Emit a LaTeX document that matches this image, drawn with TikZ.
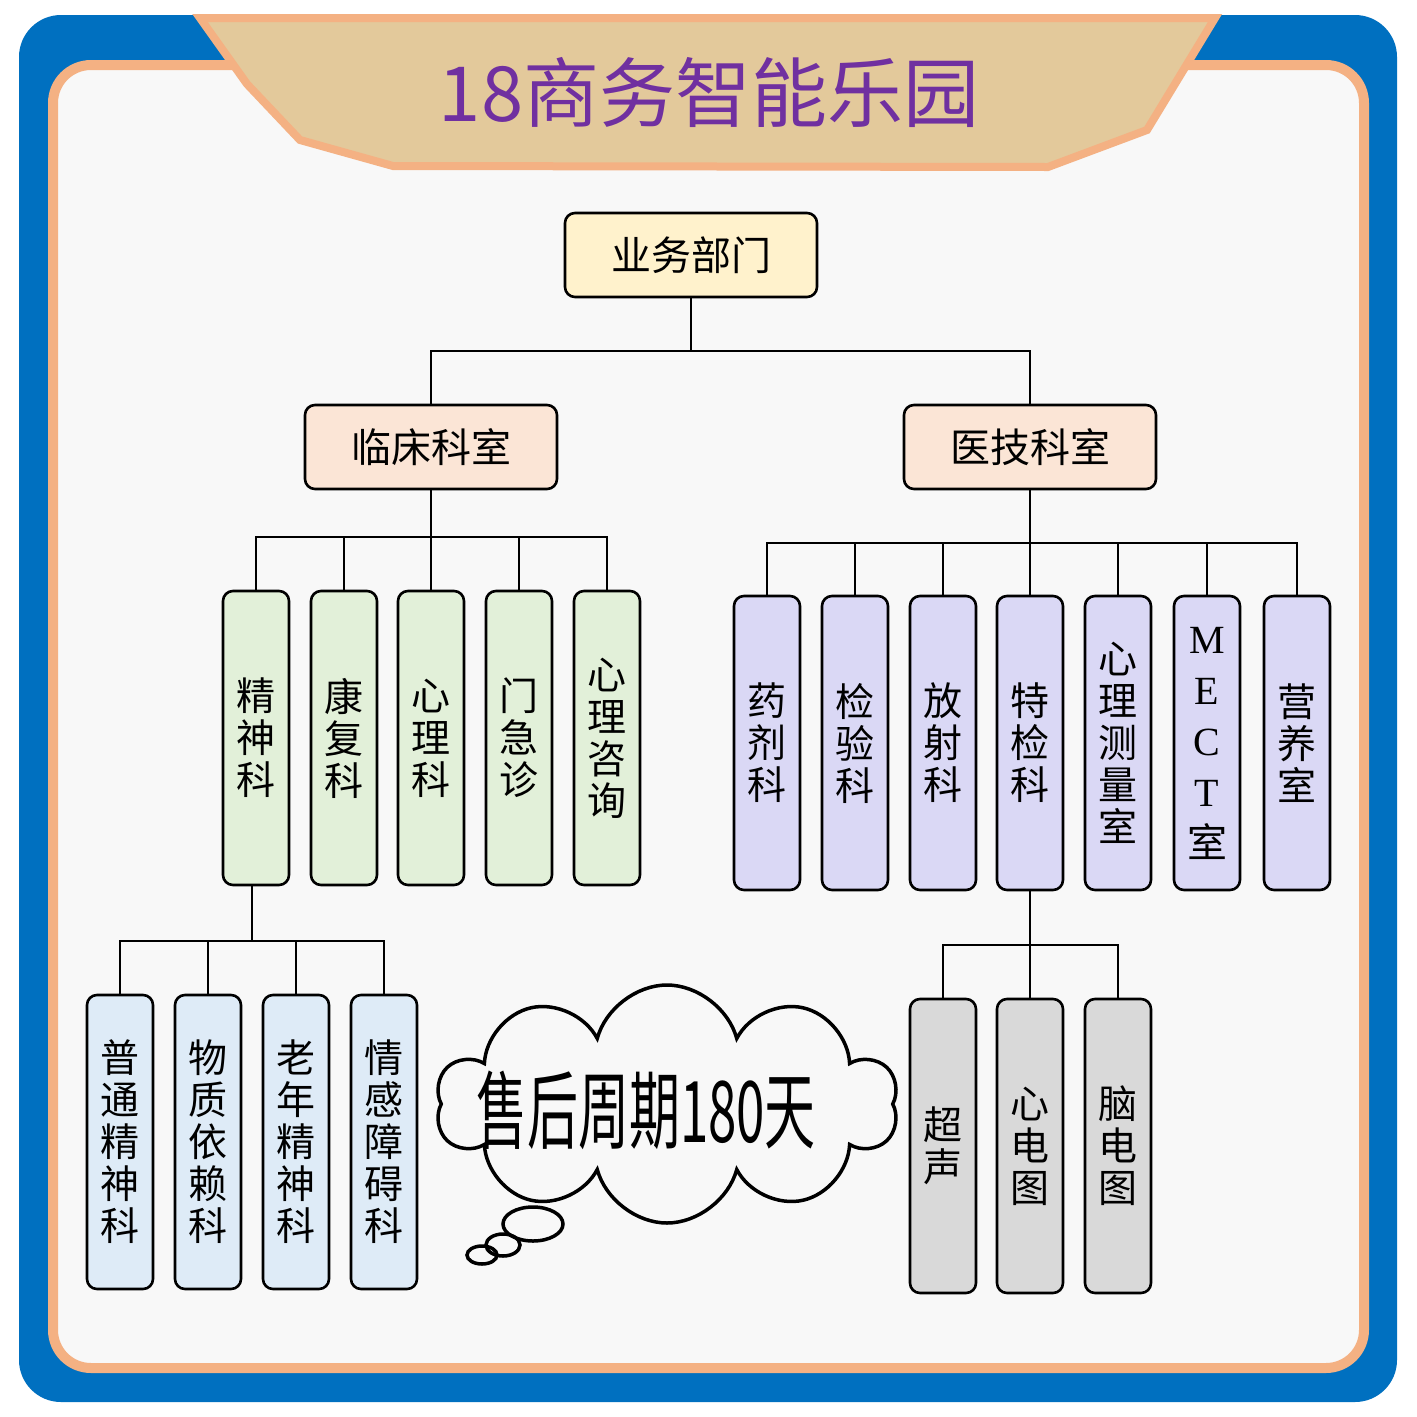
\documentclass[tikz,border=0pt]{standalone}
\usepackage{fontspec}
\setmainfont{Noto Sans CJK SC}
\newfontfamily\mectfont{Liberation Serif}
\usetikzlibrary{shapes.symbols}

\definecolor{frameblue}{HTML}{0070C0}
\definecolor{frameorange}{HTML}{F4B183}
\definecolor{paper}{HTML}{F8F8F8}
\definecolor{bannertan}{HTML}{E3C99B}
\definecolor{titlepurple}{HTML}{7030A0}
\definecolor{topfill}{HTML}{FFF2CC}
\definecolor{deptfill}{HTML}{FBE5D6}
\definecolor{clinfill}{HTML}{E2F0D9}
\definecolor{techfill}{HTML}{DAD8F5}
\definecolor{psyfill}{HTML}{DEEBF7}
\definecolor{examfill}{HTML}{D9D9D9}

\tikzset{
  head/.style={draw, line width=2.6pt, rounded corners=10pt, minimum width=252pt,
    minimum height=84pt, inner sep=0pt, font=\fontsize{40}{42}\selectfont},
  col/.style={draw, line width=2.6pt, rounded corners=10pt, minimum width=66pt,
    minimum height=294pt, inner sep=0pt, align=center, font=\fontsize{39}{42}\selectfont},
  link/.style={line width=2.6pt},
  puff/.style={line width=3.5pt}
}

\begin{document}
\begin{tikzpicture}[x=1pt, y=-1pt]
\useasboundingbox (0,0) rectangle (1417,1417);
\fill[white] (0,0) rectangle (1417,1417);

% frame and banner
\fill[frameblue, rounded corners=42pt] (19,15) rectangle (1397,1402);
\filldraw[fill=paper, draw=frameorange, line width=10pt, rounded corners=38pt] (53,65) rectangle (1364,1368);
\filldraw[fill=bannertan, draw=frameorange, line width=8pt, line join=miter]
  (200,18) -- (247,84) -- (300,140) -- (393,166) -- (1048,167) -- (1147,130) -- (1215,18) -- cycle;
\node[text=titlepurple, font=\fontsize{76}{78}\selectfont] (title) at (709,92) {18商务智能乐园};

% first levels
\node[head, fill=topfill] (top) at (691,255) {业务部门};
\node[head, fill=deptfill] (clin) at (431,447) {临床科室};
\node[head, fill=deptfill] (tech) at (1030,447) {医技科室};

\node[col, fill=clinfill] (c1) at (256,738) {精\\神\\科};
\node[col, fill=clinfill] (c2) at (344,738) {康\\复\\科};
\node[col, fill=clinfill] (c3) at (431,738) {心\\理\\科};
\node[col, fill=clinfill] (c4) at (519,738) {门\\急\\诊};
\node[col, fill=clinfill] (c5) at (607,738) {心\\理\\咨\\询};

\node[col, fill=techfill] (t1) at (767,743) {药\\剂\\科};
\node[col, fill=techfill] (t2) at (855,743) {检\\验\\科};
\node[col, fill=techfill] (t3) at (943,743) {放\\射\\科};
\node[col, fill=techfill] (t4) at (1030,743) {特\\检\\科};
\node[col, fill=techfill] (t5) at (1118,743) {心\\理\\测\\量\\室};
\node[col, fill=techfill, font=\fontsize{40}{51}\selectfont] (t6) at (1207,743)
  {\mectfont M\\\mectfont E\\\mectfont C\\\mectfont T\\室};
\node[col, fill=techfill] (t7) at (1297,743) {营\\养\\室};

\node[col, fill=psyfill] (p1) at (120,1142) {普\\通\\精\\神\\科};
\node[col, fill=psyfill] (p2) at (208,1142) {物\\质\\依\\赖\\科};
\node[col, fill=psyfill] (p3) at (296,1142) {老\\年\\精\\神\\科};
\node[col, fill=psyfill] (p4) at (384,1142) {情\\感\\障\\碍\\科};

\node[col, fill=examfill] (s1) at (943,1146) {超\\声};
\node[col, fill=examfill] (s2) at (1030,1146) {心\\电\\图};
\node[col, fill=examfill] (s3) at (1118,1146) {脑\\电\\图};

% connectors
\coordinate (bus1) at (691,351);
\coordinate (bus2) at (431,537);
\coordinate (bus3) at (1030,543);
\coordinate (bus4) at (252,941);
\coordinate (bus5) at (1030,945);
\draw[link] (top.south) -- (bus1);
\draw[link] (bus1) -| (clin.north);
\draw[link] (bus1) -| (tech.north);
\draw[link] (clin.south) -- (bus2);
\foreach \n in {c1,c2,c3,c4,c5} \draw[link] (bus2) -| (\n.north);
\draw[link] (tech.south) -- (bus3);
\foreach \n in {t1,t2,t3,t4,t5,t6,t7} \draw[link] (bus3) -| (\n.north);
\draw[link] (c1.south -| bus4) -- (bus4);
\foreach \n in {p1,p2,p3,p4} \draw[link] (bus4) -| (\n.north);
\draw[link] (t4.south) -- (bus5);
\foreach \n in {s1,s2,s3} \draw[link] (bus5) -| (\n.north);

% thought bubble
\node[cloud, draw, puff, cloud puffs=10, aspect=2.1,
  minimum width=462pt, minimum height=238pt, inner sep=0pt] (bubble) at (667,1104) {};
\draw[puff] (533,1224) ellipse (30 and 17);
\draw[puff] (503,1245) ellipse (17 and 11);
\draw[puff] (482,1255) ellipse (15 and 9);
\node (after) at (646,1110) {\scalebox{0.6}[1]{\fontsize{85}{87}\selectfont 售后周期180天}};
\end{tikzpicture}
\end{document}
